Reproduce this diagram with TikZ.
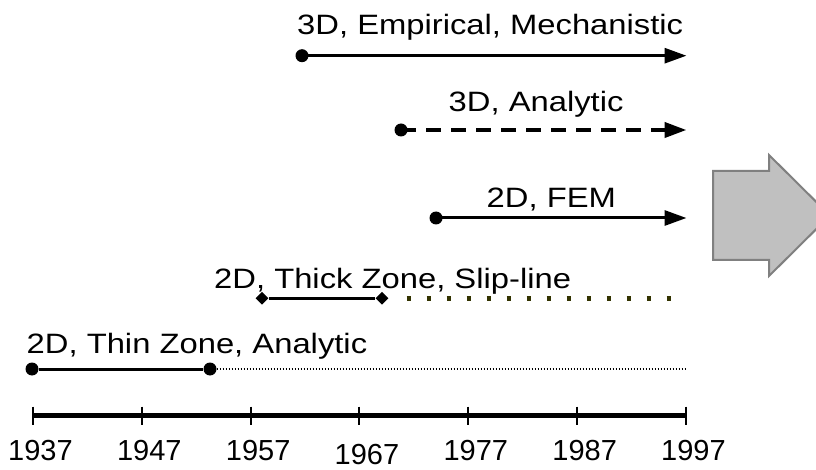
\documentclass[tikz,border=0pt]{standalone}
\usepackage{fontspec}
\setmainfont{Liberation Sans}
\newfontfamily\lblfont[FakeStretch=1.17]{Liberation Sans}
\usetikzlibrary{arrows.meta,shapes.geometric}

\tikzset{
  dot/.style={circle,fill=black,inner sep=0pt,minimum size=13pt},
  gem/.style={diamond,fill=black,inner sep=0pt,minimum size=13pt},
  lbl/.style={anchor=base west,inner sep=0pt,font=\lblfont\fontsize{28}{30}\selectfont},
  yr/.style={anchor=base,inner sep=0pt,font=\fontsize{29}{31}\selectfont},
  span/.style={line width=3pt,black},
  tipped/.style={-{Triangle[length=22pt,width=15pt]}},
  tick/.style={line width=2pt},
  bigarrow/.style={fill={rgb,255:red,192;green,192;blue,192},draw={rgb,255:red,128;green,128;blue,128},line width=2pt,line join=miter}
}
\definecolor{olive3}{RGB}{51,51,0}

\begin{document}
\begin{tikzpicture}[x=1pt,y=1pt]
\useasboundingbox (0,0) rectangle (816,469);
\clip (0,0) rectangle (816,469);

% 3D, Empirical, Mechanistic
\node[lbl] (tEmp) at (297,434) {3D, Empirical, Mechanistic};
\node[dot] (emp0) at (302,413.3) {};
\coordinate (emp1) at (686.5,413.3);
\draw[span,tipped] (emp0.center) -- (emp1);

% 3D, Analytic
\node[lbl] (tAna) at (448.5,357.3) {3D, Analytic};
\node[dot] (ana0) at (401,339) {};
\coordinate (ana1) at (686.5,339);
\draw[line width=4pt,dash pattern=on 15pt off 10pt,tipped] (ana0.center) -- (ana1);

% 2D, FEM
\node[lbl] (tFem) at (486.5,261) {2D, FEM};
\node[dot] (fem0) at (436,251) {};
\coordinate (fem1) at (686.5,251);
\draw[span,tipped] (fem0.center) -- (fem1);

% 2D, Thick Zone, Slip-line
\node[lbl] (tThick) at (214,180.7) {2D, Thick Zone, Slip-line};
\node[gem] (thk0) at (262,170.7) {};
\node[gem] (thk1) at (382,170.7) {};
\coordinate (thk2) at (686,170.7);
\draw[span] (thk0) -- (thk1);
\draw[olive3,line width=4.5pt,dash pattern=on 4.5pt off 15.5pt,shorten <=18pt] (thk1.east) -- (thk2);

% 2D, Thin Zone, Analytic
\node[lbl] (tThin) at (26.5,116) {2D, Thin Zone, Analytic};
\node[dot] (thn0) at (32,100) {};
\node[dot] (thn1) at (210,100) {};
\coordinate (thn2) at (686,100);
\draw[span] (thn0) -- (thn1);
\draw[line width=1.3pt,dash pattern=on 1.3pt off 1.7pt] (thn1.east) -- (thn2);

% time axis
\coordinate (ax0) at (33,53.3);
\coordinate (ax1) at (686,53.3);
\draw[line width=4.5pt] (ax0) -- (ax1);
\foreach \yr [count=\i from 0] in {1937,1947,1957,1967,1977,1987,1997}{
  \pgfmathsetmacro\xx{33+\i*108.83}
  \coordinate (tk\i) at (\xx,53.3);
  \draw[tick] ([yshift=9pt]tk\i) -- ([yshift=-9pt]tk\i);
}
\node[yr] (y0) at ([xshift=7.5pt,yshift=-45pt]tk0) {1937};
\node[yr] (y1) at ([xshift=7.5pt,yshift=-45pt]tk1) {1947};
\node[yr] (y2) at ([xshift=7.5pt,yshift=-45pt]tk2) {1957};
\node[yr] (y3) at ([xshift=7.5pt,yshift=-48.3pt]tk3) {1967};
\node[yr] (y4) at ([xshift=7.5pt,yshift=-45pt]tk4) {1977};
\node[yr] (y5) at ([xshift=7.5pt,yshift=-45pt]tk5) {1987};
\node[yr] (y6) at ([xshift=7.5pt,yshift=-45pt]tk6) {1997};

% block arrow pointing right
\draw[bigarrow] (713,298) -- (769,298) -- (769,314) -- (830,253.5) -- (769,193) -- (769,209) -- (713,209) -- cycle;
\end{tikzpicture}
\end{document}
